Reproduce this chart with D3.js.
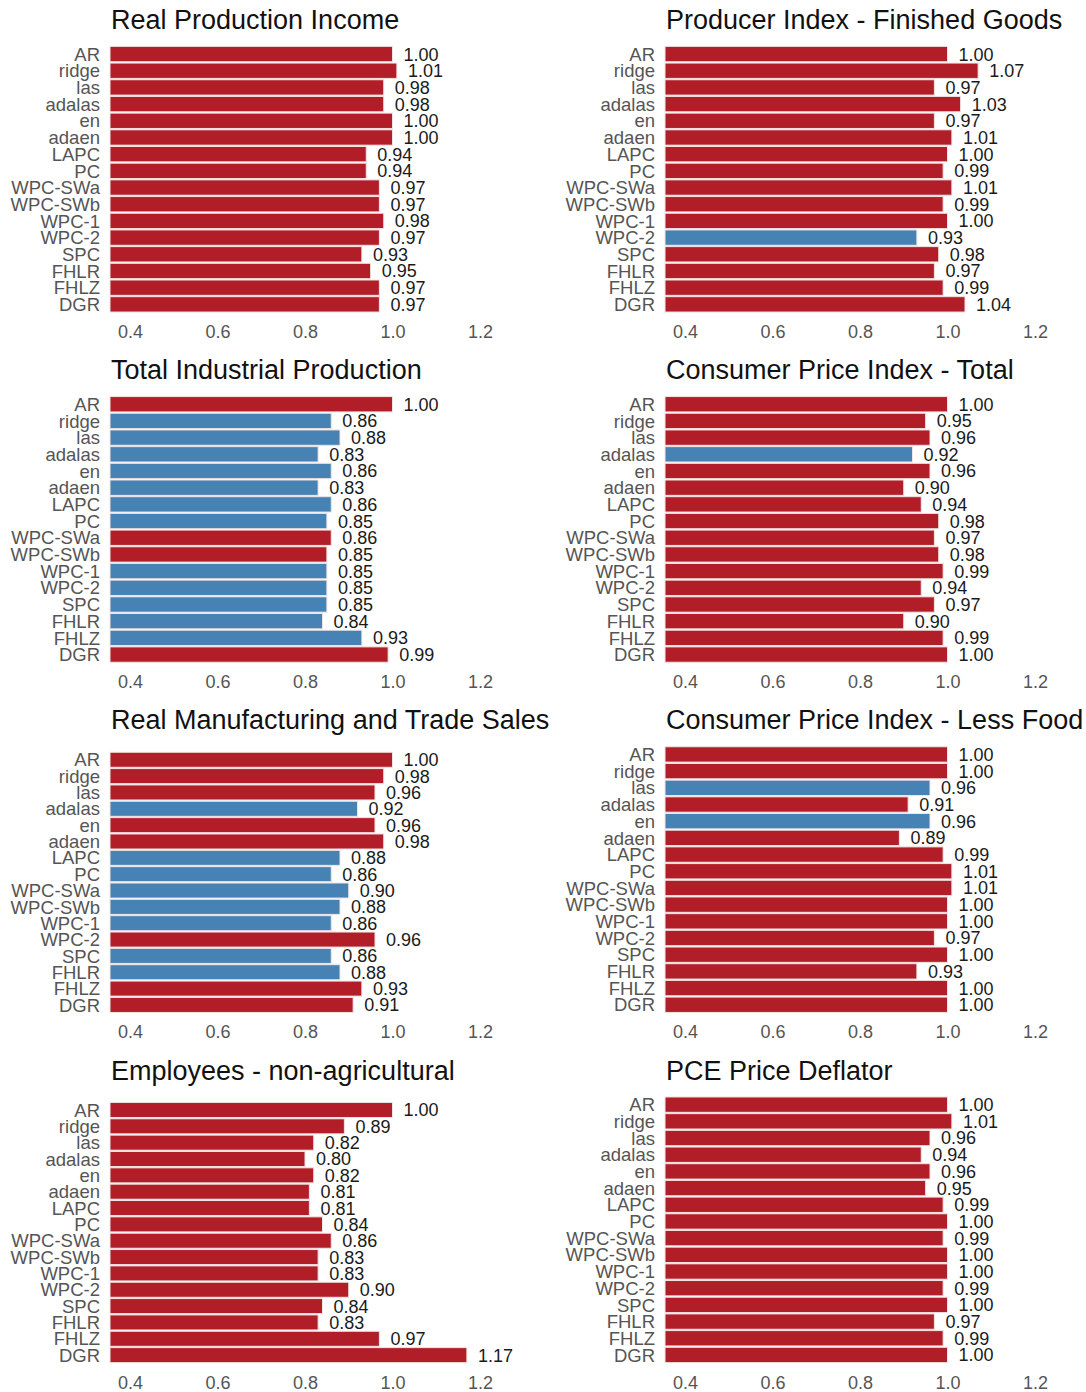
<!DOCTYPE html>
<html>
<head>
<meta charset="utf-8">
<title>Relative performance by model</title>
<script src="https://cdn.jsdelivr.net/npm/d3@7/dist/d3.min.js"></script>
<style>
  html, body { margin: 0; padding: 0; background: #fff; }
  svg { display: block; font-family: "Liberation Sans", Arial, Helvetica, sans-serif; }
</style>
</head>
<body>
<svg id="chart" width="1086" height="1392"></svg>
<script>
// Models compared in every panel (top to bottom)
const categories = ["AR", "ridge", "las", "adalas", "en", "adaen", "LAPC", "PC",
  "WPC-SWa", "WPC-SWb", "WPC-1", "WPC-2", "SPC", "FHLR", "FHLZ", "DGR"];

// Panel titles, row by row (left, right)
const titles = [
  "Real Production Income", "Producer Index - Finished Goods",
  "Total Industrial Production", "Consumer Price Index - Total",
  "Real Manufacturing and Trade Sales", "Consumer Price Index - Less Food",
  "Employees - non-agricultural", "PCE Price Deflator"
];

// Relative error of each model against AR
const realProductionIncome = [1.00, 1.01, 0.98, 0.98, 1.00, 1.00, 0.94, 0.94, 0.97, 0.97, 0.98, 0.97, 0.93, 0.95, 0.97, 0.97];
const producerIndexFinished = [1.00, 1.07, 0.97, 1.03, 0.97, 1.01, 1.00, 0.99, 1.01, 0.99, 1.00, 0.93, 0.98, 0.97, 0.99, 1.04];
const totalIndustrialProduction = [1.00, 0.86, 0.88, 0.83, 0.86, 0.83, 0.86, 0.85, 0.86, 0.85, 0.85, 0.85, 0.85, 0.84, 0.93, 0.99];
const cpiTotal = [1.00, 0.95, 0.96, 0.92, 0.96, 0.90, 0.94, 0.98, 0.97, 0.98, 0.99, 0.94, 0.97, 0.90, 0.99, 1.00];
const realMfgTradeSales = [1.00, 0.98, 0.96, 0.92, 0.96, 0.98, 0.88, 0.86, 0.90, 0.88, 0.86, 0.96, 0.86, 0.88, 0.93, 0.91];
const cpiLessFood = [1.00, 1.00, 0.96, 0.91, 0.96, 0.89, 0.99, 1.01, 1.01, 1.00, 1.00, 0.97, 1.00, 0.93, 1.00, 1.00];
const employeesNonAg = [1.00, 0.89, 0.82, 0.80, 0.82, 0.81, 0.81, 0.84, 0.86, 0.83, 0.83, 0.90, 0.84, 0.83, 0.97, 1.17];
const pceDeflator = [1.00, 1.01, 0.96, 0.94, 0.96, 0.95, 0.99, 1.00, 0.99, 1.00, 1.00, 0.99, 1.00, 0.97, 0.99, 1.00];

// Models flagged in each panel (drawn in the second colour)
const flaggedRPI = [];
const flaggedPPI = ["WPC-2"];
const flaggedTIP = ["ridge", "las", "adalas", "en", "adaen", "LAPC", "PC", "WPC-1", "WPC-2", "SPC", "FHLR", "FHLZ"];
const flaggedCPI = ["adalas"];
const flaggedMTS = ["adalas", "LAPC", "PC", "WPC-SWa", "WPC-SWb", "WPC-1", "SPC", "FHLR"];
const flaggedCPILF = ["las", "en"];
const flaggedEMP = [];
const flaggedPCE = [];

const tickValues = [0.4, 0.6, 0.8, 1.0, 1.2];

const seriesList = [realProductionIncome, producerIndexFinished, totalIndustrialProduction, cpiTotal,
  realMfgTradeSales, cpiLessFood, employeesNonAg, pceDeflator];
const flaggedList = [flaggedRPI, flaggedPPI, flaggedTIP, flaggedCPI, flaggedMTS, flaggedCPILF, flaggedEMP, flaggedPCE];

const svg = d3.select("#chart");

const colLeft = [110, 665];
const rowPitch = 350.2;
const pxPerUnit = 437.5;
const xMin = 0.4 - 20 / pxPerUnit;
const xMax = 1.254;

const color = d3.scaleOrdinal().domain([false, true]).range(["#b21e28", "#4682b4"]);

titles.forEach((title, i) => {
  const col = i % 2, row = Math.floor(i / 2);
  const left = colLeft[col];
  const top = row * rowPitch;
  const values = seriesList[i];
  const flagged = new Set(flaggedList[i]);
  const data = categories.map((c, k) => ({ name: c, value: values[k], flag: flagged.has(c) }));

  // Titles with descenders take a little more room above the plot
  const titleDrop = /[gjpqy]/.test(title) ? 5.5 : 0;

  const x = d3.scaleLinear()
    .domain([xMin, xMax])
    .range([left, left + (xMax - xMin) * pxPerUnit])
    .clamp(true);

  const y = d3.scaleBand()
    .domain(categories)
    .range([top + 45.7 + titleDrop, top + 312.7])
    .paddingInner(0.08)
    .paddingOuter(0.04);

  const g = svg.append("g");

  g.append("text")
    .attr("x", left + 1)
    .attr("y", top + 29)
    .attr("font-size", 27)
    .attr("fill", "#111")
    .text(title);

  g.selectAll("rect.bar")
    .data(data)
    .join("rect")
    .attr("class", "bar")
    .attr("x", x(0))
    .attr("y", d => y(d.name))
    .attr("width", d => x(d.value) - x(0))
    .attr("height", y.bandwidth())
    .attr("fill", d => color(d.flag))
    .attr("stroke", "#f1e4e4")
    .attr("stroke-width", 1);

  g.selectAll("text.cat")
    .data(data)
    .join("text")
    .attr("class", "cat")
    .attr("x", left - 10)
    .attr("y", d => y(d.name) + y.bandwidth() / 2)
    .attr("dy", "0.36em")
    .attr("text-anchor", "end")
    .attr("font-size", 18.5)
    .attr("fill", "#555")
    .text(d => d.name);

  g.selectAll("text.val")
    .data(data)
    .join("text")
    .attr("class", "val")
    .attr("x", d => x(d.value) + 11)
    .attr("y", d => y(d.name) + y.bandwidth() / 2)
    .attr("dy", "0.36em")
    .attr("font-size", 18)
    .attr("fill", "#1a1a1a")
    .text(d => d3.format(".2f")(d.value));

  const axis = g.append("g")
    .attr("transform", `translate(0,${top + 312.7})`)
    .call(d3.axisBottom(x).tickValues(tickValues).tickFormat(d3.format(".1f")).tickSize(0).tickPadding(12.5));
  axis.select(".domain").remove();
  axis.selectAll("text")
    .attr("font-size", 18)
    .attr("font-family", "Liberation Sans, Arial, sans-serif")
    .attr("fill", "#555");
});
</script>
</body>
</html>
